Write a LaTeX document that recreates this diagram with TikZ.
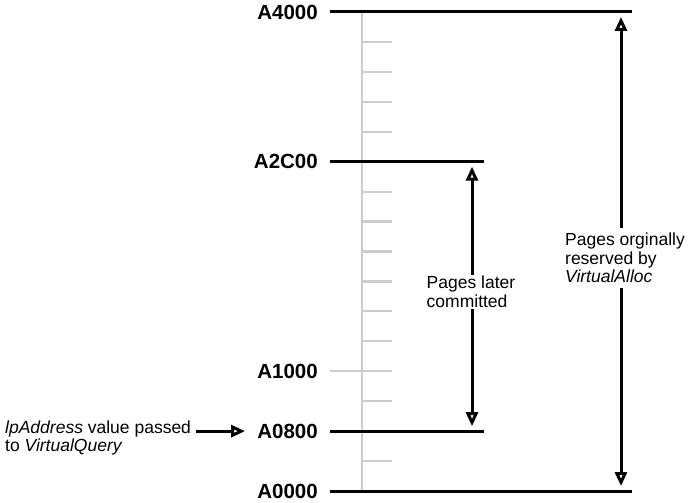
\documentclass[tikz,border=0pt]{standalone}
\usepackage{fontspec}
\setmainfont{Liberation Sans}
\usetikzlibrary{arrows.meta, positioning}
\definecolor{scalegray}{RGB}{204,204,204}

\begin{document}
\begin{tikzpicture}[x=1pt, y=29.94pt,
    addr/.style={anchor=east, inner sep=0pt, font=\fontsize{20.5}{20.5}\selectfont\bfseries},
    note/.style={align=left, fill=white, font=\fontsize{17.5}{18.5}\selectfont},
    bound/.style={line width=3pt},
    tick/.style={draw=scalegray, line width=2.2pt},
    span/.style={line width=3pt, shorten <=5pt, shorten >=5pt,
                 {Triangle[open, length=14pt, width=12pt]}-{Triangle[open, length=14pt, width=12pt]}},
    pointer/.style={line width=3pt, shorten <=2pt,
                 -{Triangle[open, length=14pt, width=12pt]}}
]
    \useasboundingbox (0,-0.367) rectangle (688,16.4);

    % page scale, one tick per page
    \draw[tick] (362,0) -- (362,16);
    \foreach \k in {1,...,15}
        \draw[tick] (362,\k) -- (392,\k);

    % addresses
    \node[addr] (a4000) at (318,16) {A4000};
    \node[addr] (a2c00) at (318,11) {A2C00};
    \node[addr] (a1000) at (318,4) {A1000};
    \node[addr] (a0800) at (318,2) {A0800};
    \node[addr] (a0000) at (318,0) {A0000};

    \coordinate (e4000) at (632,16);
    \coordinate (e2c00) at (484,11);
    \coordinate (e1000) at (392,4);
    \coordinate (e0800) at (484,2);
    \coordinate (e0000) at (632,0);

    \draw[bound] ([xshift=12pt]a4000.east) -- (e4000);
    \draw[bound] ([xshift=12pt]a2c00.east) -- (e2c00);
    \draw[tick]  ([xshift=12pt]a1000.east) -- (e1000);
    \draw[bound] ([xshift=12pt]a0800.east) -- (e0800);
    \draw[bound] ([xshift=12pt]a0000.east) -- (e0000);

    % committed range
    \coordinate (ctop) at (472,11);
    \coordinate (cbot) at (472,2);
    \draw[span] (ctop) -- (cbot);
    \node[note, inner sep=1.5pt] (later) at (471,6.65) {Pages later\\committed};

    % reserved range
    \coordinate (rtop) at (621,16);
    \coordinate (rbot) at (621,0);
    \draw[span] (rtop) -- (rbot);
    \node[note, inner xsep=3pt, inner ysep=5pt] (reserved) at (625,7.78)
        {Pages orginally\\reserved by\\\textit{VirtualAlloc}};

    % queried address
    \node[note, anchor=west, inner sep=3pt] (query) at (2,1.77)
        {\textit{lpAddress} value passed\\to \textit{VirtualQuery}};
    \coordinate (qtip) at (245,2);
    \draw[pointer] (query.east |- qtip) -- (qtip);
\end{tikzpicture}
\end{document}
